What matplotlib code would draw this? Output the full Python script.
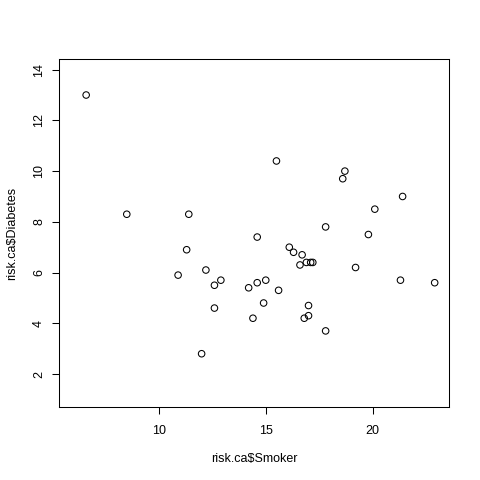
import matplotlib
matplotlib.use("Agg")
import matplotlib.pyplot as plt

plt.rcParams['font.family'] = ['Liberation Sans', 'DejaVu Sans']

# risk.ca data
smoker = [6.6, 8.5, 11.4, 15.5, 18.7, 18.6, 21.4, 20.1, 17.8, 14.6,
          19.8, 16.1, 16.3, 16.7, 16.6, 16.9, 17.1, 17.2, 19.2, 21.3,
          22.9, 14.2, 14.6, 15.0, 15.6, 11.3, 10.9, 12.2, 12.9, 12.6,
          12.6, 12.0, 14.4, 14.9, 17.0, 16.8, 17.0, 17.8]
diabetes = [13.0, 8.3, 8.3, 10.4, 10.0, 9.7, 9.0, 8.5, 7.8, 7.4,
            7.5, 7.0, 6.8, 6.7, 6.3, 6.4, 6.4, 6.4, 6.2, 5.7,
            5.6, 5.4, 5.6, 5.7, 5.3, 6.9, 5.9, 6.1, 5.7, 5.5,
            4.6, 2.8, 4.2, 4.8, 4.7, 4.2, 4.3, 3.7]
x_ticks = [10, 15, 20]
y_ticks = [2, 4, 6, 8, 10, 12, 14]

fig = plt.figure(figsize=(4.8, 4.8), dpi=100)
ax = fig.add_axes([59/480, 1-407/480, 390/480, 348/480])

ax.scatter(smoker, diabetes, s=22, facecolors='none', edgecolors='black', linewidths=0.75)

ax.set_xlim(5.33, 23.57)
ax.set_ylim(0.70, 14.42)
ax.set_xticks(x_ticks)
ax.set_yticks(y_ticks)
ax.tick_params(direction='out', length=5, width=0.75, labelsize=9)
ax.tick_params(axis='x', pad=8)
ax.tick_params(axis='y', pad=5)
for lbl in ax.get_yticklabels():
    lbl.set_rotation(90)
    lbl.set_va('center')
for s in ax.spines.values():
    s.set_linewidth(0.75)

ax.set_xlabel("risk.ca$Smoker", fontsize=9, va='center')
ax.set_ylabel("risk.ca$Diabetes", fontsize=9, va='center')
ax.xaxis.set_label_coords(0.5, -(459-407)/348)
ax.yaxis.set_label_coords(-(59-12)/390, 0.5)

fig.savefig("out.png", dpi=100)
